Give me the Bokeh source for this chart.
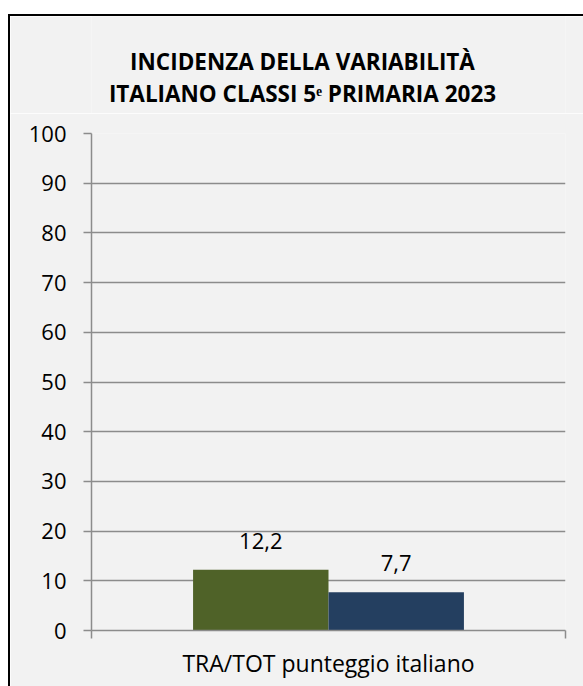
from bokeh.plotting import figure
from bokeh.layouts import column
from bokeh.models import Range1d, FixedTicker, ColumnDataSource
from bokeh.transform import dodge
from bokeh.core.properties import value
from bokeh.embed import file_html
from bokeh.resources import INLINE

# ---- data ----
categories = ["TRA/TOT punteggio italiano"]
series_1 = [12.2]
series_2 = [7.7]
y_ticks = [0, 10, 20, 30, 40, 50, 60, 70, 80, 90, 100]
title_lines = ["INCIDENZA DELLA VARIABILITÀ", "ITALIANO CLASSI 5ᵉ PRIMARIA 2023"]

FONT = "Open Sans"
BG = "#F2F2F2"
GRID = "#8c8c8c"
W = 573
TH = 97
BL, BR = 81, 18          # left / right borders of the chart frame
FW = W - BL - BR         # frame width (title strip frame is aligned to it)

def fmt(v):
    return f"{v:.1f}".replace(".", ",")

# ---- title strip ----
tp = figure(width=W, height=TH, output_backend="svg", toolbar_location=None,
            title_location=None, x_axis_location=None, y_axis_location=None,
            x_range=Range1d(0, FW), y_range=Range1d(TH, 0),
            background_fill_color=BG, border_fill_color=BG,
            min_border_left=BL, min_border_right=BR, min_border_top=0, min_border_bottom=0)
tp.outline_line_color = None
tp.xgrid.visible = False
tp.ygrid.visible = False
tsrc = ColumnDataSource(dict(x=[211, 211], y=[45, 77], t=title_lines))
tp.text(x="x", y="y", text="t", source=tsrc, text_align="center", text_baseline="alphabetic",
        text_font=value(FONT), text_font_size="22.5px", text_font_style="bold",
        text_color="#000000")

# ---- chart ----
n = len(categories)
src = ColumnDataSource(dict(
    xc=[i + 0.5 for i in range(n)],
    s1=series_1, s2=series_2,
    l1=[fmt(v) for v in series_1], l2=[fmt(v) for v in series_2],
))

p = figure(
    x_range=Range1d(0, n),
    y_range=Range1d(0, 100),
    width=W, height=686 - 16 - TH,
    output_backend="svg", toolbar_location=None,
    title_location=None,
    background_fill_color=BG, border_fill_color=BG,
    min_border_left=BL, min_border_right=BR, min_border_top=20, min_border_bottom=56,
)
p.outline_line_color = None

bw = 1 / 3.5
p.vbar(x=dodge("xc", -bw / 2), top="s1", width=bw, source=src,
       fill_color="#4F6228", line_color=None)
p.vbar(x=dodge("xc", bw / 2), top="s2", width=bw, source=src,
       fill_color="#243F60", line_color=None)

for col, lab, off in (("s1", "l1", -bw / 2), ("s2", "l2", bw / 2)):
    p.text(x=dodge("xc", off), y=col, text=lab, source=src,
           text_align="center", text_baseline="alphabetic", y_offset=-29,
           text_font=value(FONT), text_font_size="22px", text_color="#000000")

# grid
p.xgrid.grid_line_color = None
p.ygrid.grid_line_color = GRID
p.ygrid.grid_line_width = 1.5

# y axis
ya = p.yaxis[0]
ya.ticker = FixedTicker(ticks=y_ticks)
ya.axis_line_color = GRID
ya.axis_line_width = 1.5
ya.major_tick_line_color = GRID
ya.major_tick_line_width = 1.5
ya.major_tick_in = 0
ya.major_tick_out = 8
ya.minor_tick_line_color = None
ya.major_label_text_font = FONT
ya.major_label_text_font_size = "22px"
ya.major_label_text_color = "#000000"
ya.major_label_standoff = 17

# x axis (category edge ticks + category label)
xa = p.xaxis[0]
xa.ticker = FixedTicker(ticks=list(range(n + 1)))
xa.major_label_overrides = {i: "" for i in range(n + 1)}
xa.axis_line_color = GRID
xa.axis_line_width = 1.5
xa.major_tick_line_color = GRID
xa.major_tick_line_width = 1.5
xa.major_tick_in = 0
xa.major_tick_out = 8
xa.minor_tick_line_color = None
xa.major_label_text_font_size = "1px"
xa.major_label_standoff = 0
xa.axis_label = categories[0]
xa.axis_label_text_font = FONT
xa.axis_label_text_font_size = "23px"
xa.axis_label_text_font_style = "normal"
xa.axis_label_text_color = "#000000"
xa.axis_label_standoff = 8

layout = column(tp, p, spacing=0)
layout.styles = {"margin-top": "14px", "margin-left": "8px",
                 "border-left": "2px solid black", "border-top": "2px solid black"}

open("out.html", "w").write(file_html(layout, INLINE))
